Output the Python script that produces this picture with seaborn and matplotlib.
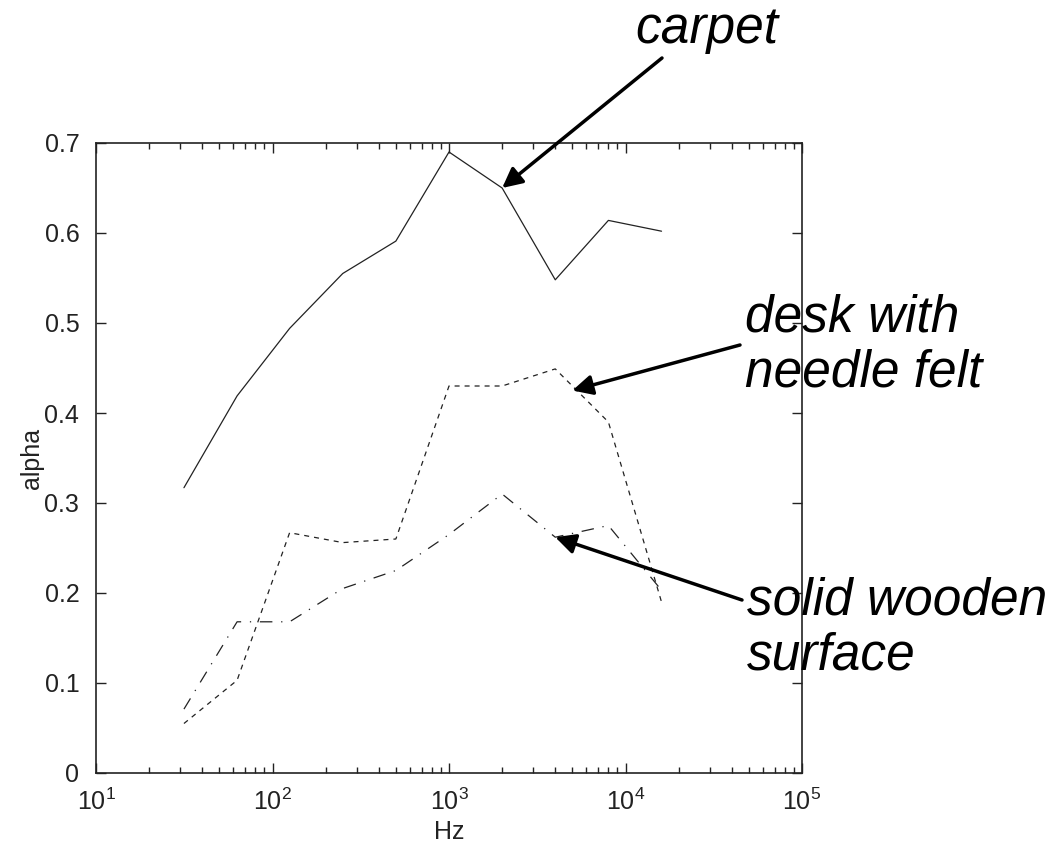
import numpy as np
import pandas as pd
import matplotlib
matplotlib.use("Agg")
import matplotlib.pyplot as plt
import seaborn as sns
from matplotlib.ticker import LogLocator, FixedLocator, FixedFormatter

freqs = [31.5, 63, 125, 250, 500, 1000, 2000, 4000, 8000, 16000]
carpet = [0.317, 0.419, 0.494, 0.555, 0.591, 0.690, 0.650, 0.548, 0.614, 0.602]
desk_felt = [0.055, 0.103, 0.267, 0.256, 0.260, 0.430, 0.430, 0.449, 0.390, 0.190]
solid_wood = [0.071, 0.168, 0.168, 0.205, 0.225, 0.265, 0.310, 0.262, 0.275, 0.203]

series_names = ["carpet", "desk with\nneedle felt", "solid wooden\nsurface"]
y_ticks = [0, 0.1, 0.2, 0.3, 0.4, 0.5, 0.6, 0.7]
y_ticklabels = ["0", "0.1", "0.2", "0.3", "0.4", "0.5", "0.6", "0.7"]

df = pd.DataFrame({
    "Hz": freqs * 3,
    "alpha": carpet + desk_felt + solid_wood,
    "material": [series_names[0]] * len(freqs) + [series_names[1]] * len(freqs) + [series_names[2]] * len(freqs),
})

sns.set_style("ticks")
plt.rcParams["font.family"] = ["Liberation Sans", "DejaVu Sans"]
plt.rcParams["mathtext.fontset"] = "custom"
plt.rcParams["mathtext.rm"] = "Liberation Sans"
plt.rcParams["mathtext.it"] = "Liberation Sans:italic"
plt.rcParams["text.color"] = "black"

fig = plt.figure(figsize=(10.61, 8.52), dpi=100)
ax = fig.add_axes([96 / 1061, 1 - 773 / 852, (802 - 96) / 1061, (773 - 143) / 852])

sns.lineplot(
    data=df, x="Hz", y="alpha", style="material", ax=ax,
    color="#222222", linewidth=0.9, legend=False,
    dashes={series_names[0]: "", series_names[1]: (4, 4), series_names[2]: (10, 7, 1, 7)},
)

ax.set_xscale("log")
ax.set_xlim(10, 1e5)
ax.set_ylim(0, 0.7)
ax.yaxis.set_major_locator(FixedLocator(y_ticks))
ax.yaxis.set_major_formatter(FixedFormatter(y_ticklabels))
ax.xaxis.set_major_locator(LogLocator(base=10, numticks=10))
ax.xaxis.set_minor_locator(LogLocator(base=10, subs=np.arange(2, 10), numticks=50))

ax.tick_params(which="both", direction="in", top=True, right=True, colors="#222222",
               labelsize=18, labelcolor="#222222")
ax.tick_params(which="major", length=7, width=1)
ax.tick_params(which="minor", length=4, width=1)
ax.tick_params(axis="y", pad=12)
ax.tick_params(axis="x", pad=11)
for s in ax.spines.values():
    s.set_linewidth(1.2)
    s.set_color("#222222")
    s.set_visible(True)

ax.set_xlabel("Hz", fontsize=18, color="#222222", labelpad=4)
ax.set_ylabel("alpha", fontsize=18, color="#222222", labelpad=0)

arrow = dict(arrowstyle="-|>", color="black", lw=2.5, mutation_scale=30, shrinkA=0, shrinkB=0)
fig_h = 852
def fig_xy(px, py):
    return (px / 1061, 1 - py / fig_h)

ax.annotate(series_names[0], xy=(2000, carpet[6]), xycoords="data",
            xytext=fig_xy(635, 43), textcoords="figure fraction", color="black",
            fontsize=37, style="italic", ha="left", va="baseline", annotation_clip=False)
ax.annotate("", xy=(2000, carpet[6]), xycoords="data",
            xytext=fig_xy(662, 58), textcoords="figure fraction",
            arrowprops=arrow, annotation_clip=False)

ax.annotate(series_names[1], xy=fig_xy(745, 387), xycoords="figure fraction", color="black",
            fontsize=37, style="italic", ha="left", va="baseline", linespacing=1.17,
            annotation_clip=False)
ax.annotate("", xy=(5000, 0.425), xycoords="data",
            xytext=fig_xy(740, 345), textcoords="figure fraction",
            arrowprops=arrow, annotation_clip=False)

ax.annotate(series_names[2], xy=fig_xy(747, 670), xycoords="figure fraction", color="black",
            fontsize=37, style="italic", ha="left", va="baseline", linespacing=1.17,
            annotation_clip=False)
ax.annotate("", xy=(4000, 0.262), xycoords="data",
            xytext=fig_xy(742, 600), textcoords="figure fraction",
            arrowprops=arrow, annotation_clip=False)

fig.savefig("out.png", dpi=100)
